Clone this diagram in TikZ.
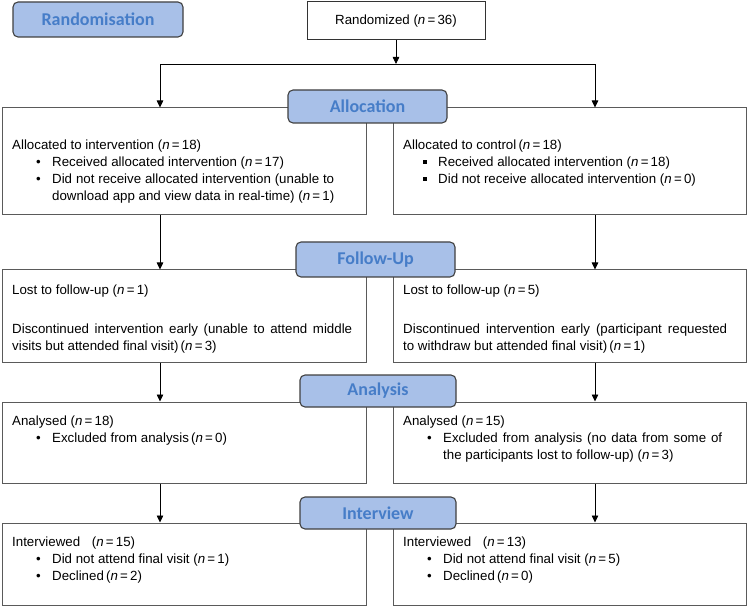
\documentclass[tikz,border=0pt]{standalone}
\usepackage{fontspec}
\setmainfont{Liberation Sans}
\newfontfamily\labfont{Carlito}
\usetikzlibrary{arrows.meta}
\definecolor{labfill}{RGB}{168,192,232}
\definecolor{labtext}{RGB}{70,125,200}
\definecolor{boxline}{RGB}{90,90,90}
\newcommand{\nval}[1]{(\textit{n}\,=\,#1)}
\newcommand{\bul}{\makebox[16pt][l]{\textbullet}}
\newcommand{\sqb}{\makebox[15pt][l]{\raisebox{2.6pt}{\rule{3.6pt}{3.6pt}}}}
\newcommand{\jline}[2]{\makebox[#1][s]{#2}}
\begin{document}
\begin{tikzpicture}[x=1pt,y=1pt,
  box/.style={draw=boxline,line width=1pt,fill=white,inner sep=0,minimum width=#1},
  box/.default=364pt,
  stage/.style={draw=black!75,line width=1.1pt,fill=labfill,rounded corners=5pt,inner sep=0,
    text=labtext,font=\labfont\bfseries\fontsize{18}{21}\selectfont},
  txt/.style={anchor=base west,inner sep=0,font=\fontsize{13.3}{17}\selectfont},
  arr/.style={line width=0.8pt,-{Triangle[width=6.5pt,length=7pt]}}]
\useasboundingbox (0,0) rectangle (748,-607);
% boxes
\node[box=178pt,minimum height=38pt,draw=black!80] (rnd) at (396,-21) {};
\node[box,minimum height=107pt] (aL) at (184,-161.5) {};
\node[box=353pt,minimum height=107pt] (aR) at (569.5,-161.5) {};
\node[box,minimum height=92pt] (fL) at (184,-316) {};
\node[box=353pt,minimum height=92pt] (fR) at (569.5,-316) {};
\node[box,minimum height=81pt] (nL) at (184,-442.5) {};
\node[box=353pt,minimum height=81pt] (nR) at (569.5,-442.5) {};
\node[box,minimum height=82pt] (iL) at (184,-564) {};
\node[box=353pt,minimum height=82pt] (iR) at (569.5,-564) {};
% texts
\node[txt,anchor=center] (trnd) at (rnd.center) {Randomized \nval{36}};
\node[txt] (taL) at (12,-149.5) {\parbox[t]{350pt}{Allocated to intervention \nval{18}\\
  \hspace*{24pt}\bul Received allocated intervention \nval{17}\\
  \hspace*{24pt}\bul\jline{282pt}{Did not receive allocated intervention (unable to}\\
  \hspace*{40pt}download app and view data in real-time) \nval{1}}};
\node[txt] (taR) at (403,-149.5) {\parbox[t]{340pt}{Allocated to control\,\nval{18}\\
  \hspace*{20pt}\sqb Received allocated intervention \nval{18}\\
  \hspace*{20pt}\sqb Did not receive allocated intervention \nval{0}}};
\node[txt] (tfL) at (12,-294.5) {\parbox[t]{350pt}{Lost to follow-up \nval{1}\\[22pt]
  \jline{340pt}{Discontinued intervention early (unable to attend middle}\\
  visits but attended final visit)\,\nval{3}}};
\node[txt] (tfR) at (403,-294.5) {\parbox[t]{340pt}{Lost to follow-up \nval{5}\\[22pt]
  \jline{324pt}{Discontinued intervention early (participant requested}\\
  to withdraw but attended final visit)\,\nval{1}}};
\node[txt] (tnL) at (12,-425.5) {\parbox[t]{350pt}{Analysed \nval{18}\\
  \hspace*{24pt}\bul Excluded from analysis\,\nval{0}}};
\node[txt] (tnR) at (403,-425.5) {\parbox[t]{340pt}{Analysed \nval{15}\\
  \hspace*{24pt}\bul\jline{279pt}{Excluded from analysis (no data from some of}\\
  \hspace*{40pt}the participants lost to follow-up) \nval{3}}};
\node[txt] (tiL) at (12,-546.5) {\parbox[t]{350pt}{Interviewed\hspace{8pt} \nval{15}\\
  \hspace*{24pt}\bul Did not attend final visit \nval{1}\\
  \hspace*{24pt}\bul Declined\,\nval{2}}};
\node[txt] (tiR) at (403,-546.5) {\parbox[t]{340pt}{Interviewed\hspace{8pt} \nval{13}\\
  \hspace*{24pt}\bul Did not attend final visit \nval{5}\\
  \hspace*{24pt}\bul Declined\,\nval{0}}};
% connectors
\coordinate (split) at (396,-64);
\draw[arr] (rnd.south) -- (split);
\draw[arr] (split) -| ([xshift=-24pt]aL.north);
\draw[arr] (split) -| ([xshift=25.5pt]aR.north);
\draw[arr] ([xshift=-24pt]aL.south) -- ([xshift=-24pt]fL.north);
\draw[arr] ([xshift=25.5pt]aR.south) -- ([xshift=25.5pt]fR.north);
\draw[arr] ([xshift=-24pt]fL.south) -- ([xshift=-24pt]nL.north);
\draw[arr] ([xshift=25.5pt]fR.south) -- ([xshift=25.5pt]nR.north);
\draw[arr] ([xshift=-24pt]nL.south) -- ([xshift=-24pt]iL.north);
\draw[arr] ([xshift=25.5pt]nR.south) -- ([xshift=25.5pt]iR.north);
% stage labels
\node[stage,minimum width=170pt,minimum height=35pt] (lrand) at (98,-19.5) {Randomisation};
\node[stage,minimum width=159pt,minimum height=33pt] (lalloc) at (367.5,-106.5) {Allocation};
\node[stage,minimum width=159pt,minimum height=35pt] (lfollow) at (375.5,-259.5) {Follow-Up};
\node[stage,minimum width=156pt,minimum height=32pt] (lanal) at (378,-391) {Analysis};
\node[stage,minimum width=156pt,minimum height=32pt] (linter) at (378,-513) {Interview};
\end{tikzpicture}
\end{document}
